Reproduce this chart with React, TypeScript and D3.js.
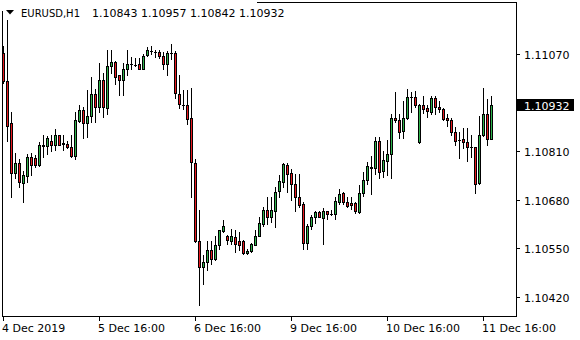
import React from "react";
import * as d3 from "d3";

const symbol = "EURUSD,H1";
const headerValues = ["1.10843", "1.10957", "1.10842", "1.10932"];

const opens = [
  1.11073,1.10998,1.10884,1.10751,1.10777,1.10724,1.10743,1.10793,1.10791,1.10774,
  1.10823,1.10823,1.10838,1.10827,1.10852,1.10831,1.10829,1.10822,1.10796,1.10890,
  1.10921,1.10885,1.10905,1.10963,1.10927,1.11001,1.10926,1.11036,1.11047,1.11012,
  1.11000,1.11028,1.11043,1.11041,1.11043,1.11030,1.11067,1.11077,1.11074,1.11074,
  1.11065,1.11043,1.11071,1.11072,1.10963,1.10934,1.10932,1.10899,1.10779,1.10571,
  1.10500,1.10513,1.10546,1.10522,1.10560,1.10596,1.10584,1.10570,1.10580,1.10571,
  1.10571,1.10538,1.10543,1.10560,1.10584,1.10616,1.10653,1.10635,1.10649,1.10703,
  1.10727,1.10774,1.10751,1.10722,1.10687,1.10669,1.10564,1.10609,1.10635,1.10647,
  1.10632,1.10649,1.10642,1.10642,1.10675,1.10698,1.10673,1.10671,1.10671,1.10647,
  1.10699,1.10734,1.10766,1.10764,1.10838,1.10756,1.10783,1.10803,1.10899,1.10894,
  1.10863,1.10899,1.10954,1.10954,1.10834,1.10934,1.10924,1.10914,1.10952,1.10929,
  1.10923,1.10898,1.10894,1.10862,1.10840,1.10843,1.10835,1.10820,1.10820,1.10724,
  1.10852,1.10908,1.10843,
];

const highs = [
  1.11092,1.11161,1.10914,1.10804,1.10790,1.10758,1.10801,1.10804,1.10799,1.10834,
  1.10852,1.10849,1.10852,1.10868,1.10854,1.10852,1.10838,1.10852,1.10914,1.10932,
  1.10927,1.10972,1.11009,1.10976,1.11045,1.11018,1.11079,1.11080,1.11052,1.11013,
  1.11045,1.11080,1.11061,1.11059,1.11059,1.11070,1.11087,1.11092,1.11080,1.11080,
  1.11074,1.11077,1.11096,1.11077,1.11014,1.10974,1.10974,1.10979,1.10789,1.10653,
  1.10531,1.10571,1.10571,1.10584,1.10600,1.10625,1.10586,1.10602,1.10598,1.10593,
  1.10573,1.10549,1.10564,1.10598,1.10633,1.10660,1.10687,1.10687,1.10713,1.10745,
  1.10778,1.10778,1.10763,1.10749,1.10749,1.10673,1.10614,1.10638,1.10651,1.10651,
  1.10658,1.10651,1.10653,1.10687,1.10709,1.10700,1.10687,1.10687,1.10673,1.10720,
  1.10754,1.10780,1.10798,1.10847,1.10847,1.10811,1.10840,1.10909,1.10967,1.10908,
  1.10945,1.10976,1.10967,1.10970,1.10936,1.10958,1.10934,1.10958,1.10956,1.10943,
  1.10926,1.10909,1.10899,1.10874,1.10860,1.10871,1.10871,1.10852,1.10821,1.10905,
  1.10978,1.10948,1.10957,
];

const lows = [
  1.10993,1.10838,1.10686,1.10737,1.10713,1.10673,1.10727,1.10745,1.10768,1.10770,
  1.10794,1.10803,1.10811,1.10814,1.10825,1.10813,1.10817,1.10795,1.10790,1.10888,
  1.10845,1.10847,1.10887,1.10887,1.10914,1.10900,1.10909,1.11018,1.10990,1.10960,
  1.10960,1.11014,1.11030,1.11038,1.11028,1.11028,1.11065,1.11070,1.11061,1.11059,
  1.11030,1.11014,1.11056,1.10952,1.10926,1.10923,1.10883,1.10687,1.10566,1.10398,
  1.10455,1.10493,1.10509,1.10520,1.10549,1.10594,1.10562,1.10562,1.10540,1.10545,
  1.10536,1.10534,1.10541,1.10558,1.10582,1.10611,1.10614,1.10620,1.10607,1.10687,
  1.10713,1.10700,1.10680,1.10651,1.10660,1.10549,1.10549,1.10602,1.10617,1.10633,
  1.10562,1.10629,1.10638,1.10629,1.10669,1.10669,1.10660,1.10656,1.10645,1.10645,
  1.10691,1.10721,1.10696,1.10749,1.10739,1.10740,1.10745,1.10739,1.10888,1.10845,
  1.10845,1.10897,1.10914,1.10927,1.10832,1.10911,1.10900,1.10909,1.10909,1.10914,
  1.10893,1.10878,1.10854,1.10825,1.10792,1.10819,1.10783,1.10794,1.10697,1.10722,
  1.10850,1.10827,1.10842,
];

const closes = [
  1.10997,1.10878,1.10751,1.10777,1.10727,1.10745,1.10794,1.10774,1.10774,1.10827,
  1.10825,1.10844,1.10827,1.10852,1.10827,1.10830,1.10820,1.10797,1.10892,1.10921,
  1.10885,1.10905,1.10963,1.10927,1.11001,1.10927,1.11036,1.11047,1.11007,1.11001,
  1.11030,1.11043,1.11042,1.11040,1.11030,1.11065,1.11079,1.11078,1.11074,1.11065,
  1.11043,1.11071,1.11072,1.10964,1.10936,1.10933,1.10896,1.10780,1.10570,1.10500,
  1.10513,1.10546,1.10522,1.10558,1.10598,1.10609,1.10573,1.10582,1.10562,1.10560,
  1.10538,1.10544,1.10562,1.10584,1.10617,1.10653,1.10635,1.10653,1.10700,1.10731,
  1.10776,1.10749,1.10722,1.10687,1.10667,1.10564,1.10610,1.10635,1.10647,1.10635,
  1.10649,1.10641,1.10642,1.10676,1.10696,1.10673,1.10663,1.10667,1.10649,1.10699,
  1.10734,1.10769,1.10767,1.10838,1.10754,1.10785,1.10803,1.10898,1.10892,1.10860,
  1.10899,1.10954,1.10955,1.10932,1.10934,1.10923,1.10916,1.10952,1.10927,1.10923,
  1.10896,1.10893,1.10860,1.10838,1.10839,1.10834,1.10820,1.10820,1.10722,1.10854,
  1.10908,1.10843,1.10932,
];

const yTicks = [1.1107, 1.1081, 1.1068, 1.1055, 1.1042];
const xTickIndex = [0, 24, 48, 72, 96, 120];
const xTickLabels = ["4 Dec 2019", "5 Dec 16:00", "6 Dec 16:00", "9 Dec 16:00", "10 Dec 16:00", "11 Dec 16:00"];

const W = 580;
const H = 340;
const FONT = "'DejaVu Sans', Verdana, sans-serif";
const BULL = "#2DB24A";
const BEAR = "#E8191F";

export default function App() {
  const n = opens.length;
  const x = d3.scaleLinear().domain([0, n - 1]).range([3, 3 + 4 * (n - 1)]);
  const y = d3.scaleLinear().domain([1.10368, 1.11207]).range([316.5, 2.5]);
  const py = (v: number) => Math.round(y(v));
  const fmt = d3.format(".5f");
  const last = closes[n - 1];
  const lastY = py(last);

  const candles = d3.range(n).map((i) => {
    const o = opens[i], c = closes[i], h = highs[i], l = lows[i];
    const xl = x(i);
    const top = py(Math.max(o, c));
    const bot = py(Math.min(o, c));
    const ht = py(h);
    const lb = py(l);
    const color = c > o ? BULL : c < o ? BEAR : "#000";
    return (
      <g key={i}>
        <rect x={xl} y={ht} width={1} height={lb - ht + 1} fill="#000" />
        <rect x={xl - 1} y={top} width={3} height={bot - top + 1} fill="#000" />
        {bot - top >= 2 && (
          <rect x={xl} y={top + 1} width={1} height={bot - top - 1} fill={color} />
        )}
      </g>
    );
  });

  return (
    <svg
      width={W}
      height={H}
      style={{ position: "absolute", left: 0, top: 0, background: "#fff" }}
      shapeRendering="crispEdges"
    >
      <rect x={0} y={0} width={W} height={H} fill="#fff" />
      {/* frame */}
      <line x1={2.5} y1={2.5} x2={516.5} y2={2.5} stroke="#000" />
      <line x1={2.5} y1={2.5} x2={2.5} y2={316.5} stroke="#000" />
      <line x1={516.5} y1={2.5} x2={516.5} y2={316.5} stroke="#000" />
      <line x1={2.5} y1={316.5} x2={516.5} y2={316.5} stroke="#000" />

      {candles}

      {/* y axis */}
      {yTicks.map((t) => (
        <g key={t}>
          <line x1={517} x2={520} y1={py(t) + 0.5} y2={py(t) + 0.5} stroke="#000" />
          <text x={524} y={py(t) + 4.5} fontFamily={FONT} fontSize={11} fill="#000">
            {fmt(t)}
          </text>
        </g>
      ))}
      <rect x={517} y={lastY - 6} width={57} height={12} fill="#000" />
      <text x={524} y={lastY + 4.5} fontFamily={FONT} fontSize={11} fill="#fff">
        {fmt(last)}
      </text>

      {/* x axis */}
      {xTickIndex.map((idx, k) => (
        <g key={idx}>
          <line x1={x(idx) + 0.5} x2={x(idx) + 0.5} y1={317} y2={321} stroke="#000" />
          <text x={x(idx) - 1} y={332} fontFamily={FONT} fontSize={11} fill="#000">
            {xTickLabels[k]}
          </text>
        </g>
      ))}

      {/* header */}
      <rect x={0} y={0} width={257} height={11} fill="#fff" />
      <path d="M6,10 L14,10 L10,14.5 Z" fill="#000" shapeRendering="auto" />
      <text x={21} y={17} fontFamily={FONT} fontSize={11} fill="#000" textLength={59} lengthAdjust="spacingAndGlyphs">
        {symbol}
      </text>
      {headerValues.map((v, k) => (
        <text key={k} x={92 + k * 49} y={17} fontFamily={FONT} fontSize={11} fill="#000">
          {v}
        </text>
      ))}
    </svg>
  );
}
